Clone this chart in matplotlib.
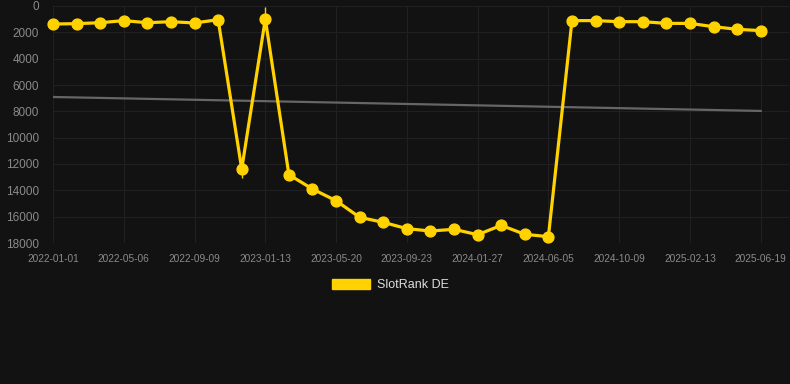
import matplotlib
matplotlib.use('Agg')
import matplotlib.pyplot as plt
from matplotlib.patches import Patch

plt.rcParams['font.family'] = ['Liberation Sans', 'DejaVu Sans']

dates = ['2022-01-01', '2022-02-12', '2022-03-26', '2022-05-06', '2022-06-17', '2022-07-29',
         '2022-09-09', '2022-10-21', '2022-12-02', '2023-01-13', '2023-02-24', '2023-04-07',
         '2023-05-20', '2023-07-01', '2023-08-12', '2023-09-23', '2023-11-04', '2023-12-16',
         '2024-01-27', '2024-03-10', '2024-04-23', '2024-06-05', '2024-07-17', '2024-08-28',
         '2024-10-09', '2024-11-20', '2025-01-01', '2025-02-13', '2025-03-27', '2025-05-08',
         '2025-06-19']
rank = [1370, 1340, 1270, 1110, 1270, 1190, 1290, 1040, 12380, 990, 12810, 13900,
        14790, 16050, 16430, 16910, 17090, 16960, 17370, 16660, 17340, 17520,
        1110, 1110, 1190, 1190, 1320, 1320, 1570, 1770, 1870]
# small whiskers seen on two points
whisker_idx = [8, 9]
whisker_lo = [12000, 100]
whisker_hi = [13100, 1300]
trend_start = 6910
trend_end = 7970

bg = '#121212'
gold = '#FFD200'

fig = plt.figure(figsize=(7.9, 3.84), dpi=100, facecolor=bg)
ax = fig.add_axes([53 / 790, 1 - 243 / 384, (789 - 53) / 790, 237 / 384], facecolor=bg)

x = list(range(len(dates)))
ax.plot([x[0], x[-1]], [trend_start, trend_end], color='#666666', lw=1.6, zorder=2)
ax.vlines(whisker_idx, whisker_lo, whisker_hi, color=gold, lw=1, zorder=3)
ax.plot(x, rank, color=gold, lw=2.3, marker='o', markersize=7.8, zorder=4, clip_on=False)

ax.set_ylim(18000, 0)
ax.set_xlim(0, 31.2)
ax.set_yticks(range(0, 18001, 2000))
ax.set_xticks(x[::3])
ax.set_xticklabels(dates[::3])

ax.grid(True, color='#202020', lw=0.8)
ax.set_axisbelow(True)
for s in ax.spines.values():
    s.set_visible(False)
ax.tick_params(axis='y', length=0, pad=10, labelsize=8.5, labelcolor='#8a8a8a')
ax.tick_params(axis='x', length=0, pad=8, labelsize=7.3, labelcolor='#8a8a8a')

fig.legend(handles=[Patch(color=gold)], labels=['SlotRank DE'], loc='center',
           bbox_to_anchor=(390 / 790, 1 - 285 / 384), frameon=False,
           fontsize=9, labelcolor='#dddddd', handlelength=3.1, handleheight=0.9,
           handletextpad=0.5)

fig.savefig('out.png', dpi=100, facecolor=bg)
